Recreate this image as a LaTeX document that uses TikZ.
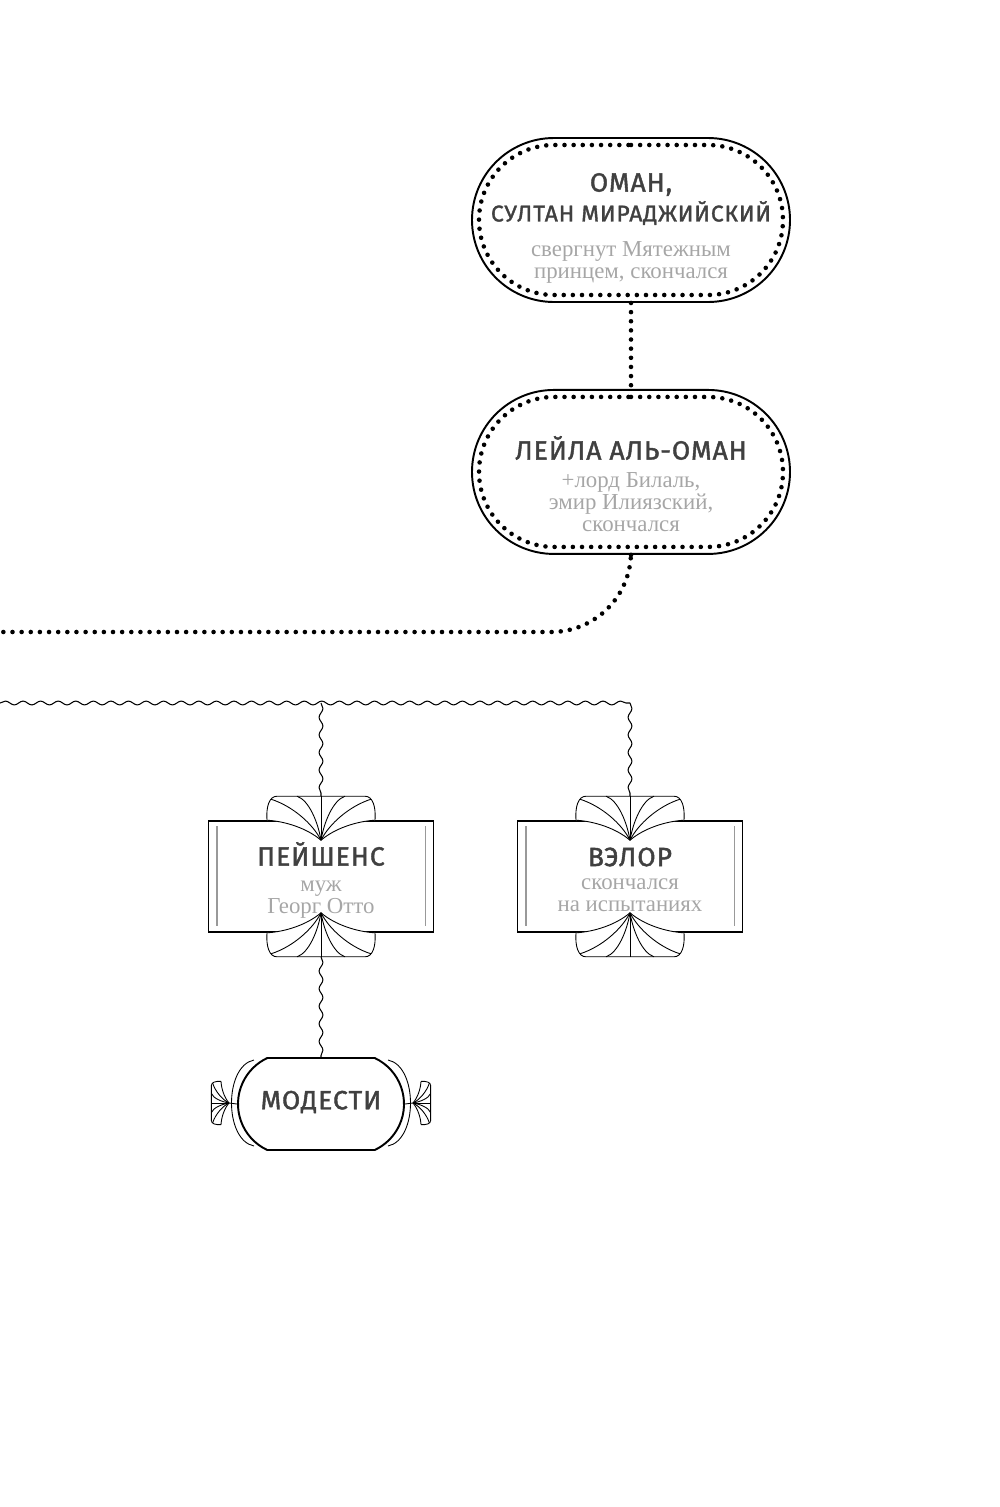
\documentclass[tikz,border=0pt]{standalone}
\usepackage{fontspec}
\setmainfont{Liberation Serif}
\newfontfamily\namefont[LetterSpace=4, FakeBold=1.6]{Fira Sans}
\newfontfamily\notefont{Liberation Serif}
\usetikzlibrary{positioning,shapes.misc,decorations.pathmorphing}

\tikzset{
  ring/.style={rounded rectangle, draw, line width=1.1pt, minimum width=63.6mm, minimum height=32.8mm, inner sep=0pt},
  dotline/.style={line width=2.6pt, line cap=round, dash pattern=on 0pt off 5.2pt},
  dotring/.style={rounded rectangle, draw, dotline, minimum width=60.8mm, minimum height=30mm, inner sep=0pt},
  wavy/.style={line width=0.6pt, decorate, decoration={snake, segment length=10pt, amplitude=1.1pt}},
  card/.style={rectangle, draw, line width=0.9pt, minimum width=45mm, minimum height=22.2mm, inner sep=0pt},
  cardrule/.style={line width=0.9pt, black!40},
  pill/.style={rounded rectangle, rounded rectangle arc length=130, draw, line width=1.1pt, minimum width=33.2mm, minimum height=18.4mm, inner sep=0pt},
  famname/.style={font=\namefont\fontsize{15}{17}\selectfont, text=black!75, align=center, inner sep=0pt},
  famnote/.style={font=\notefont\fontsize{13}{12.5}\selectfont, text=black!35, align=center, inner sep=0pt},
  fine/.style={line width=0.5pt},
  fan/.pic={
    % white ground, so the card edge does not run through
    \fill[white] (-54,0) .. controls (-55,-13) and (-52,-24) .. (-44,-24) -- (44,-24)
      .. controls (52,-24) and (55,-13) .. (54,0) .. controls (36,1) and (14,8) .. (0,20)
      .. controls (-14,8) and (-36,1) .. (-54,0) -- cycle;
    \draw[fine] (-54,0) .. controls (-55,-13) and (-52,-24) .. (-44,-24) -- (44,-24)
      .. controls (52,-24) and (55,-13) .. (54,0);
    \draw[fine] (0,20) -- (0,-24);
    \foreach \s in {-1,1} {
      \draw[fine] (0,20) .. controls (\s*3,2) and (\s*12,-20) .. (\s*24,-24);
      \draw[fine] (0,20) .. controls (\s*8,4) and (\s*28,-14) .. (\s*50,-21);
      \draw[fine] (0,20) .. controls (\s*14,8) and (\s*36,1) .. (\s*54,0);
    }
    \coordinate (-top) at (0,-24);
    \coordinate (-tip) at (0,20);
  }
}

\begin{document}
\begin{tikzpicture}[x=0.2mm, y=-0.2mm]
  \useasboundingbox (0,0) rectangle (1000,1507);

  % Oman and his daughter
  \node[ring] (oman) at (631,220) {};
  \node[dotring] (oman-dots) at (oman) {};
  \node[ring, below=17.2mm of oman] (leila) {};
  \node[dotring] (leila-dots) at (leila) {};

  \node[famname] (oman-name) at (631,199) {ОМАН,\\\fontsize{13}{17}\selectfont СУЛТАН МИРАДЖИЙСКИЙ};
  \node[famnote] (oman-note) at (631,262) {свергнут Мятежным\\принцем, скончался};
  \node[famname] (leila-name) at (631,448) {ЛЕЙЛА АЛЬ-ОМАН};
  \node[famnote] (leila-note) at (631,502) {+лорд Билаль,\\эмир Илиязский,\\скончался};

  \coordinate (lineL) at (0,632);
  \draw[dotline] (oman.south) -- (leila.north);
  \draw[dotline, rounded corners=16mm] (leila.south) |- (lineL);

  % Children
  \node[card] (patience) at (321,876.5) {};
  \node[card] (valour) at (630,876.5) {};
  \foreach \n in {patience, valour} {
    \draw[cardrule] ([shift={(9,6)}]\n.north west) -- ([shift={(9,-7)}]\n.south west);
    \draw[cardrule] ([shift={(-9,6)}]\n.north east) -- ([shift={(-9,-7)}]\n.south east);
  }
  \pic (patience-up) at (patience.north) {fan};
  \pic[yscale=-1] (patience-dn) at (patience.south) {fan};
  \pic (valour-up) at (valour.north) {fan};
  \pic[yscale=-1] (valour-dn) at (valour.south) {fan};

  \node[famname] (patience-name) at (321,854) {ПЕЙШЕНС};
  \node[famnote] (patience-note) at (321,900) {муж\\Георг Отто};
  \node[famname] (valour-name) at (630,857) {ВЭЛОР};
  \node[famnote] (valour-note) at (630,895) {скончался\\на испытаниях};

  % Grandchild
  \node[pill] (modesty) at (321,1104) {};
  \draw[fine] (254,1060) .. controls (224,1066) and (224,1140) .. (254,1146);
  \draw[fine] (388,1060) .. controls (418,1066) and (418,1140) .. (388,1146);
  \pic[rotate=90, scale=0.4] (modesty-l) at (221,1103) {fan};
  \pic[rotate=-90, scale=0.4] (modesty-r) at (421,1103) {fan};
  \draw[fine] (modesty-l-tip) -- (modesty.west);
  \draw[fine] (modesty-r-tip) -- (modesty.east);
  \node[famname] (modesty-name) at (321,1102) {МОДЕСТИ};

  % Wavy lines
  \coordinate (waveL) at (0,703);
  \coordinate (waveR) at (630,703);
  \coordinate (waveP) at (321,703);
  \draw[wavy] (waveL) -- (waveR);
  \draw[wavy] (waveR) -- (valour-up-top);
  \draw[wavy] (waveP) -- (patience-up-top);
  \draw[wavy] (patience-dn-top) -- (modesty.north);
\end{tikzpicture}
\end{document}
